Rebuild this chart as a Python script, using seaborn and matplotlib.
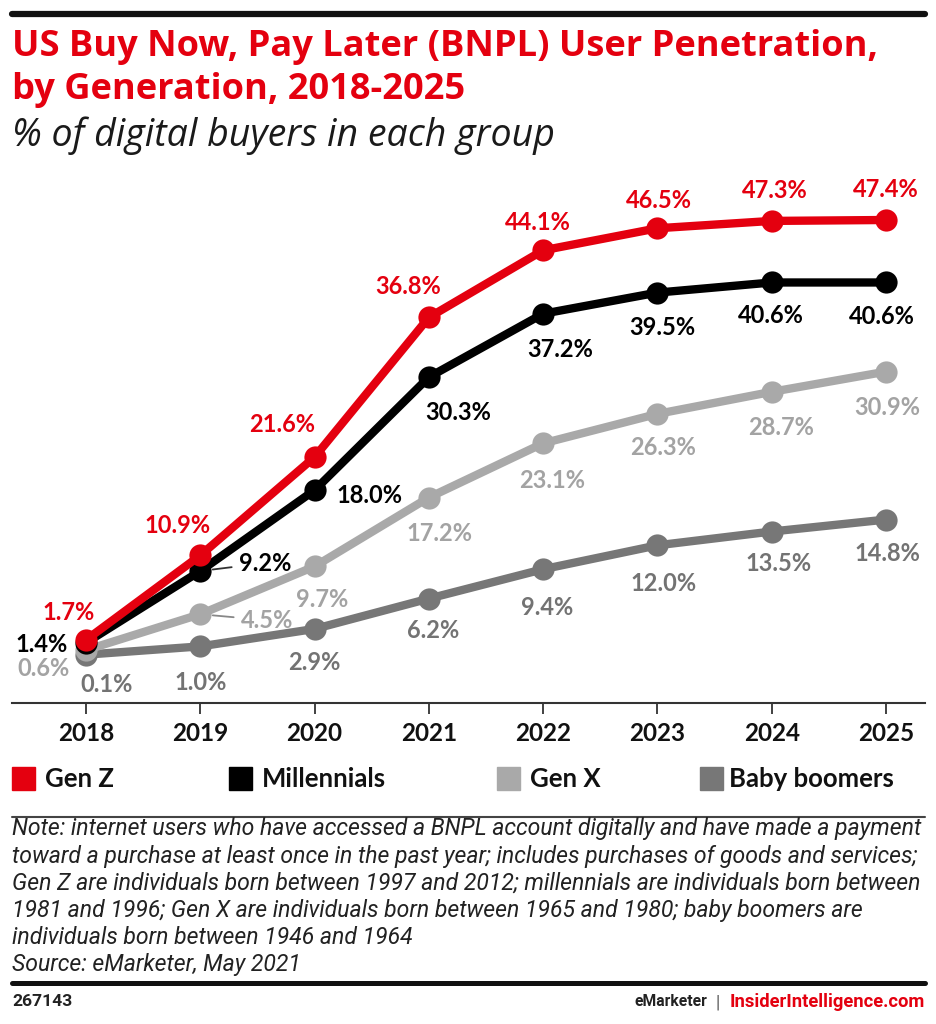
import pandas as pd
import matplotlib.pyplot as plt
import seaborn as sns
from matplotlib.lines import Line2D
from matplotlib.patches import Rectangle

# Dados (% de compradores digitais)
years = [2018, 2019, 2020, 2021, 2022, 2023, 2024, 2025]
gen_z = [1.7, 10.9, 21.6, 36.8, 44.1, 46.5, 47.3, 47.4]
millennials = [1.4, 9.2, 18.0, 30.3, 37.2, 39.5, 40.6, 40.6]
gen_x = [0.6, 4.5, 9.7, 17.2, 23.1, 26.3, 28.7, 30.9]
baby_boomers = [0.1, 1.0, 2.9, 6.2, 9.4, 12.0, 13.5, 14.8]
groups = ["Gen Z", "Millennials", "Gen X", "Baby boomers"]

title_lines = ["US Buy Now, Pay Later (BNPL) User Penetration,", "by Generation, 2018-2025"]
subtitle = "% of digital buyers in each group"
note_lines = [
    "Note: internet users who have accessed a BNPL account digitally and have made a payment",
    "toward a purchase at least once in the past year; includes purchases of goods and services;",
    "Gen Z are individuals born between 1997 and 2012; millennials are individuals born between",
    "1981 and 1996; Gen X are individuals born between 1965 and 1980; baby boomers are",
    "individuals born between 1946 and 1964",
    "Source: eMarketer, May 2021",
]

series = {"Gen Z": gen_z, "Millennials": millennials, "Gen X": gen_x, "Baby boomers": baby_boomers}
df = pd.DataFrame(
    [(g, y, v) for g in groups for y, v in zip(years, series[g])],
    columns=["group", "year", "value"],
)

RED = "#e4000f"
palette = {"Gen Z": RED, "Millennials": "#000000", "Gen X": "#a9a9a9", "Baby boomers": "#777777"}
label_colors = {"Gen Z": RED, "Millennials": "#000000", "Gen X": "#a3a3a3", "Baby boomers": "#737373"}

# deslocamento dos rótulos (pixels, em relação ao ponto)
offsets = {
    "Gen Z": [(-17, 27), (-23, 30), (-32, 33), (-21, 31), (-5, 28), (2, 28), (3, 30), (0, 30)],
    "Millennials": [(-44, -2), (65, 8), (55, -5), (29, -35), (17, -36), (5, -35), (-1, -33), (-4, -34)],
    "Gen X": [(-42, -18), (67, -6), (8, -33), (11, -36), (9, -37), (6, -34), (9, -36), (1, -36)],
    "Baby boomers": [(21, -30), (0, -36), (0, -34), (4, -32), (4, -38), (6, -38), (7, -32), (1, -34)],
}

sns.set_theme(style="white")
plt.rcParams['font.family'] = ['Lato', 'DejaVu Sans']

W, H = 937, 1024
fig = plt.figure(figsize=(W / 100, H / 100), dpi=100)
renderer = fig.canvas.get_renderer()


def fx(px):
    return px / W


def fy(py):
    return 1 - py / H


def fit_width(txt, target_px):
    # ajusta o tamanho da fonte para ocupar a largura desejada
    w = txt.get_window_extent(renderer).width
    txt.set_fontsize(txt.get_fontsize() * target_px / w)
    return txt.get_fontsize()


ax = fig.add_axes([fx(12), fy(703), fx(925) - fx(12), fy(170) - fy(703)])

sns.lineplot(
    data=df, x="year", y="value", hue="group",
    hue_order=["Baby boomers", "Gen X", "Millennials", "Gen Z"],
    palette=palette, marker="o", markersize=16, markeredgewidth=0,
    linewidth=6, legend=False, ax=ax,
)

for g in groups:
    for i, (yr, v) in enumerate(zip(years, series[g])):
        dx, dy = offsets[g][i]
        arrow = None
        if (g in ("Millennials", "Gen X")) and i == 1:
            arrow = dict(arrowstyle="-", color="#333333" if g == "Millennials" else "#888888",
                         lw=1.3, shrinkA=3, shrinkB=9)
        ax.annotate(f"{v:.1f}%", xy=(yr, v), xytext=(dx, dy), textcoords="offset pixels",
                    ha="center", va="center", fontsize=17, fontweight="bold",
                    color=label_colors[g], arrowprops=arrow, zorder=10)

ax.set_xlim(2018 - 74 / 114.29, 2025 + 39 / 114.29)
ax.set_ylim(-5.16, 52.84)
ax.set_xticks(years)
ax.set_xticklabels([str(y) for y in years], fontsize=17.5, fontweight="bold", color="#111111")
ax.set_yticks([])
ax.set_xlabel("")
ax.set_ylabel("")
sns.despine(ax=ax, left=True)
ax.spines["bottom"].set_color("#333333")
ax.spines["bottom"].set_linewidth(1.5)
ax.tick_params(axis="x", length=8, width=1.3, color="#333333", pad=6, bottom=True, direction="out")

# Título e subtítulo
fig.add_artist(Line2D([fx(12), fx(925)], [fy(14), fy(14)], color="#111111", lw=4.5))
t1 = fig.text(fx(12), fy(56), title_lines[0], ha="left", va="baseline", fontsize=24,
              fontweight="bold", color=RED, family=["Open Sans", "DejaVu Sans"])
title_size = fit_width(t1, 868)
fig.text(fx(12), fy(99), title_lines[1], ha="left", va="baseline", fontsize=title_size,
         fontweight="bold", color=RED, family=["Open Sans", "DejaVu Sans"])
t_sub = fig.text(fx(12), fy(136), subtitle, ha="left", va="center", fontsize=21, style="italic",
                 color="#1a1a1a", family=["Open Sans", "DejaVu Sans"])
fit_width(t_sub, 543)

# Legenda manual
leg_x = [(12, 45), (229, 262), (497, 530), (700, 729)]
for g, (sx, tx) in zip(groups, leg_x):
    fig.add_artist(Rectangle((fx(sx), fy(790)), fx(23), 23 / H, color=palette[g],
                             transform=fig.transFigure))
    fig.text(fx(tx), fy(779), g, ha="left", va="center", fontsize=18.5, fontweight="bold",
             color="#111111")

# Nota e fonte
fig.add_artist(Line2D([fx(12), fx(925)], [fy(817), fy(817)], color="#444444", lw=1.5))
note_texts = []
for k, line in enumerate(note_lines):
    note_texts.append(fig.text(fx(12), fy(829 + 27 * k), line, ha="left", va="center",
                               fontsize=14.5, style="italic", color="#222222",
                               family=["Roboto", "DejaVu Sans"]))
note_size = fit_width(note_texts[0], 911)
for t in note_texts[1:]:
    t.set_fontsize(note_size)

fig.add_artist(Line2D([fx(12), fx(925)], [fy(983), fy(983)], color="#111111", lw=3.6))
t_id = fig.text(fx(12), fy(1002), "267143", ha="left", va="center", fontsize=11, fontweight="bold",
                color="#222222", family=["Roboto", "DejaVu Sans"])
fit_width(t_id, 60)
t_ii = fig.text(fx(925), fy(1002), "InsiderIntelligence.com", ha="right", va="center", fontsize=12,
                fontweight="bold", color=RED, family=["Roboto", "DejaVu Sans"])
fit_width(t_ii, 195)
fig.text(fx(718), fy(1002), "|", ha="center", va="center", fontsize=13,
         color="#555555", family=["Roboto", "DejaVu Sans"])
t_em = fig.text(fx(707), fy(1002), "eMarketer", ha="right", va="center", fontsize=12,
                fontweight="bold", color="#222222", family=["Roboto", "DejaVu Sans"])
fit_width(t_em, 72)

fig.savefig("out.png", dpi=100)
